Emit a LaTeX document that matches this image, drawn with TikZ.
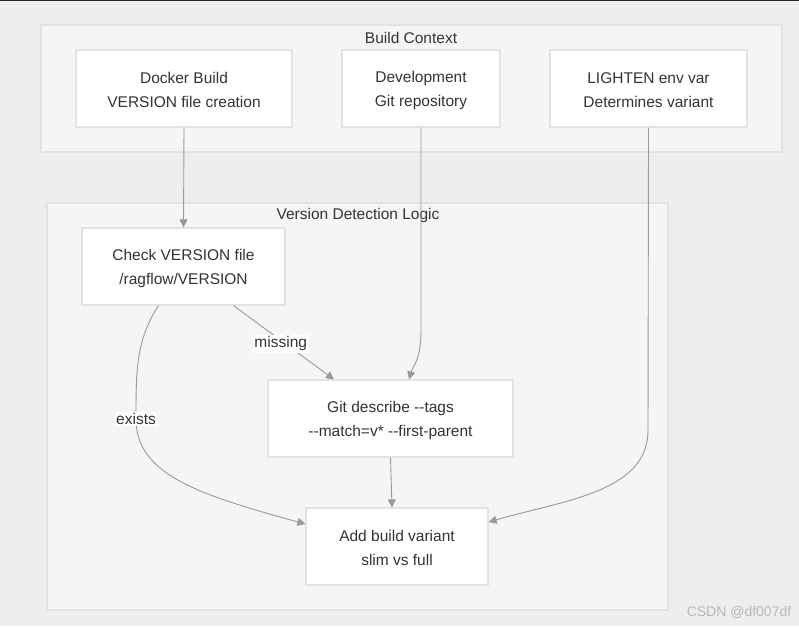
\documentclass[tikz,border=0pt]{standalone}
\usepackage{fontspec}
\setmainfont{Liberation Sans}[Ligatures=TeXOff]
\usetikzlibrary{arrows.meta}
\definecolor{bgc}{HTML}{EFEEEC}
\definecolor{clfill}{HTML}{F5F5F5}
\definecolor{clline}{HTML}{E2E2E2}
\definecolor{txt}{HTML}{333333}
\definecolor{edge}{HTML}{999999}
\newcommand{\tp}{\rule{0pt}{15pt}}
\tikzset{
  cluster/.style={draw=clline, fill=clfill, line width=1.2pt},
  box/.style={draw=clline, fill=white, line width=1.2pt, align=center, text=txt,
    font=\fontsize{15.5}{24}\selectfont, inner sep=0pt},
  ctitle/.style={text=txt, font=\fontsize{15.5}{18}\selectfont, inner sep=0pt},
  conn/.style={draw=edge, line width=0.9pt, -{Triangle[length=8pt,width=8pt]}},
  elabel/.style={fill=white, text=txt, font=\fontsize{15.5}{18}\selectfont, inner sep=1.5pt}
}
\begin{document}
\begin{tikzpicture}[x=1pt,y=-1pt]
\useasboundingbox (0,0) rectangle (799,626);
\fill[bgc] (0,0) rectangle (799,626);
\fill[black!85] (0,0) rectangle (799,1.5);
% clusters
\draw[cluster] (41,25) rectangle (782,152);
\node[ctitle] (bctitle) at (411,37.5) {Build Context};
\draw[cluster] (47,203) rectangle (668,610);
\node[ctitle] (vdtitle) at (358,215.5) {Version Detection Logic};
% nodes
\node[box, minimum width=216pt, minimum height=77pt] (docker) at (184,88.5) {\tp Docker Build\\VERSION file creation};
\node[box, minimum width=158pt, minimum height=77pt] (dev) at (421,88.5) {\tp Development\\Git repository};
\node[box, minimum width=197pt, minimum height=77pt] (light) at (648.5,88.5) {\tp LIGHTEN env var\\Determines variant};
\node[box, minimum width=203pt, minimum height=77pt] (check) at (183.5,266.5) {\tp Check VERSION file\\/ragflow/VERSION};
\node[box, minimum width=245pt, minimum height=77pt] (git) at (390.5,418.5) {\tp Git describe --tags\\--match=v* --first-parent};
\node[box, minimum width=182pt, minimum height=77pt] (add) at (397,546.5) {\tp Add build variant\\slim vs full};
% edges
\draw[conn] (docker.south) -- (check.north);
\draw[conn] (dev.south) -- (421,330) .. controls (421,360) and (413,366) .. (git.north -| 409,0);
\draw[conn] (light.south) -- (648,430) .. controls (648,492) and (565,500) .. (add.east |- 0,522);
\draw[conn] ([xshift=50pt]check.south) -- node[elabel, pos=0.52, xshift=-5pt] {missing} (git.north -| 334,0);
\draw[conn] ([xshift=-25pt]check.south) .. controls (136,340) and (136,370) .. (136,419)
  .. controls (136,475) and (200,495) .. (add.west |- 0,524);
\node[elabel] (exlbl) at (136,419) {exists};
\draw[conn] (git.south) -- (add.north -| 392,0);
% watermark
\node[text=black!28, font=\fontsize{14}{16}\selectfont, inner sep=0pt] (wm) at (739,612) {CSDN @df007df};
\end{tikzpicture}
\end{document}
